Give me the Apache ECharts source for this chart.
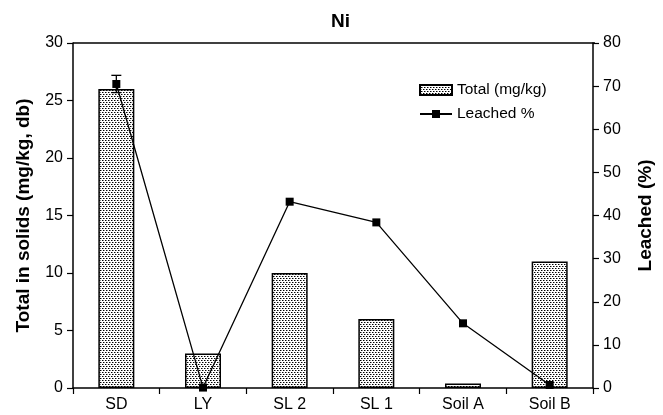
<!DOCTYPE html>
<html>
<head>
<meta charset="utf-8">
<script src="https://cdn.jsdelivr.net/npm/echarts@6/dist/echarts.min.js"></script>
<style>
html, body { margin: 0; padding: 0; background: #fff; }
#chart { width: 663px; height: 415px; }
</style>
</head>
<body>
<div id="chart"></div>
<script>
// values
var sites = ['SD', 'LY', 'SL 2', 'SL 1', 'Soil A', 'Soil B'];
var totals = [26, 3, 10, 6, 0.4, 11];
var leached = [70.5, 0.1, 43.2, 38.4, 15, 0.7];
var leachedErr = [2, 0, 0, 0, 0, 0];

// dotted fill like the original bars
function dotPattern() {
	var c = document.createElement('canvas');
	c.width = 6;
	c.height = 4;
	var ctx = c.getContext('2d');
	ctx.fillStyle = '#ffffff';
	ctx.fillRect(0, 0, 6, 4);
	ctx.fillStyle = '#000000';
	ctx.fillRect(0, 0, 1, 1);
	ctx.fillRect(3, 0, 1, 1);
	ctx.fillRect(1, 2, 1, 1);
	ctx.fillRect(4, 2, 1, 1);
	ctx.fillStyle = '#888888';
	ctx.fillRect(1, 0, 1, 1);
	ctx.fillRect(4, 0, 1, 1);
	ctx.fillRect(2, 2, 1, 1);
	ctx.fillRect(5, 2, 1, 1);
	return c;
}
var pat = { image: dotPattern(), repeat: 'repeat' };

var errData = [];
for (var i = 0; i < sites.length; i++) {
	if (leachedErr[i] > 0)
		errData.push([i, leached[i] - leachedErr[i], leached[i] + leachedErr[i]]);
}

var font = 'Liberation Sans, Arial, sans-serif';
var myChart = echarts.init(document.getElementById('chart'));
var option = {
	animation: false,
	backgroundColor: '#fff',
	textStyle: { fontFamily: font, color: '#000' },
	title: {
		text: 'Ni', left: 326, top: 7,
		textStyle: { fontFamily: font, fontSize: 19, fontWeight: 'bold', color: '#000' }
	},
	legend: {
		orient: 'vertical', left: 414, top: 77, itemGap: 8,
		itemWidth: 32, itemHeight: 10,
		textStyle: { fontFamily: font, fontSize: 15.5, color: '#000' },
		data: [
			{ name: 'Total (mg/kg)', icon: 'rect' },
			{ name: 'Leached %' }
		]
	},
	grid: { left: 73, right: 68, top: 43, bottom: 27, show: false },
	xAxis: {
		type: 'category', data: sites,
		axisLine: { lineStyle: { color: '#000', width: 1.5 } },
		axisTick: { show: true, alignWithLabel: false, length: 6, lineStyle: { color: '#000', width: 1.2 } },
		axisLabel: { color: '#000', fontSize: 16, fontFamily: font, margin: 9 }
	},
	yAxis: [{
		type: 'value', min: 0, max: 30, interval: 5,
		name: 'Total in solids (mg/kg, db)', nameLocation: 'middle', nameGap: 40, nameRotate: 90,
		nameTextStyle: { fontSize: 19, fontWeight: 'bold', color: '#000', fontFamily: font },
		axisLine: { show: true, lineStyle: { color: '#000', width: 1.5 } },
		axisTick: { show: true, length: 6, lineStyle: { color: '#000', width: 1.2 } },
		axisLabel: { color: '#000', fontSize: 16, fontFamily: font, margin: 10 },
		splitLine: { show: false }
	}, {
		type: 'value', min: 0, max: 80, interval: 10,
		name: 'Leached (%)', nameLocation: 'middle', nameGap: 43, nameRotate: 90,
		nameTextStyle: { fontSize: 19, fontWeight: 'bold', color: '#000', fontFamily: font },
		axisLine: { show: true, lineStyle: { color: '#000', width: 1.5 } },
		axisTick: { show: true, length: 6, lineStyle: { color: '#000', width: 1.2 } },
		axisLabel: { color: '#000', fontSize: 16, fontFamily: font, margin: 10 },
		splitLine: { show: false }
	}],
	series: [{
		name: 'Total (mg/kg)', type: 'bar', data: totals, barWidth: 36,
		itemStyle: { color: pat, borderColor: '#000', borderWidth: 1.5 }
	}, {
		name: 'Leached %', type: 'line', yAxisIndex: 1, data: leached,
		symbol: 'rect', symbolSize: 8,
		lineStyle: { color: '#000', width: 1.3 },
		itemStyle: { color: '#000' }, z: 5
	}, {
		name: 'err', type: 'custom', yAxisIndex: 1, data: errData, z: 4,
		renderItem: function (params, api) {
			var lo = api.coord([api.value(0), api.value(1)]);
			var hi = api.coord([api.value(0), api.value(2)]);
			var st = { stroke: '#000', lineWidth: 1.3 };
			return {
				type: 'group', children: [
					{ type: 'line', shape: { x1: hi[0], y1: hi[1], x2: lo[0], y2: lo[1] }, style: st },
					{ type: 'line', shape: { x1: hi[0] - 5, y1: hi[1], x2: hi[0] + 5, y2: hi[1] }, style: st },
					{ type: 'line', shape: { x1: lo[0] - 5, y1: lo[1], x2: lo[0] + 5, y2: lo[1] }, style: st }
				]
			};
		}
	}],
	graphic: [{
		type: 'line', z: 10,
		shape: { x1: 73, y1: 43, x2: 595, y2: 43 },
		style: { stroke: '#000', lineWidth: 1.5 }
	}]
};
myChart.setOption(option);
</script>
</body>
</html>
